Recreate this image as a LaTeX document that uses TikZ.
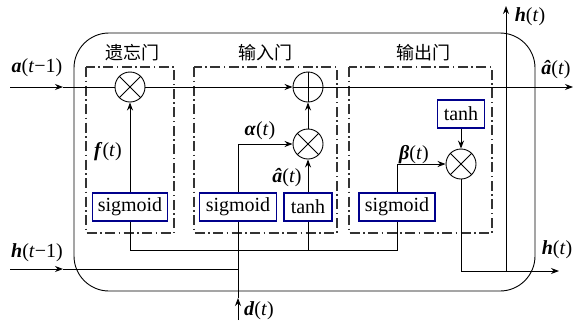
\documentclass[tikz,border=0pt]{standalone}
\usepackage{fontspec}
\setmainfont{Liberation Serif}
\newfontfamily\cjk{Noto Sans CJK SC}
\usetikzlibrary{arrows.meta}
\newcommand\bvar[1]{\textbf{\textit{#1}}}
\begin{document}
\begin{tikzpicture}[x=1pt,y=-1pt,
  font=\fontsize{20}{23}\selectfont,
  line width=0.9pt,
  >={Stealth[length=8pt,width=6pt]},
  fn/.style={draw=blue!55!black, line width=1.2pt, fill=white, inner sep=3pt, minimum height=28pt},
  op/.style={draw, circle, minimum size=30pt, inner sep=0pt, fill=white},
  gatebox/.style={draw=black!80, dash pattern=on 10pt off 3.5pt on 1.5pt off 3.5pt, line width=1.1pt},
  lbl/.style={inner sep=0pt},
  cjklbl/.style={inner sep=0pt, font={\cjk\fontsize{18}{22}\selectfont}}
]
\useasboundingbox (0,0) rectangle (573,322);
% outer cell
\draw[rounded corners=35pt] (74,33) rectangle (535,291);
% gate boxes
\draw[gatebox] (86,67) rectangle (174,233);
\draw[gatebox] (194,67) rectangle (337,233);
\draw[gatebox] (349,67) rectangle (492,233);
\node[cjklbl] (g1) at (132,53) {遗忘门};
\node[cjklbl] (g2) at (265,53) {输入门};
\node[cjklbl] (g3) at (423,53) {输出门};
% operators
\node[op] (fx) at (130,87) {};
\node[op] (ip) at (308,87) {};
\node[op] (ix) at (308,144) {};
\node[op] (ox) at (461,164) {};
\foreach \n in {fx,ix,ox}
  \draw (\n.north east) -- (\n.south west) (\n.north west) -- (\n.south east);
\draw (ip.north) -- (ip.south) (ip.west) -- (ip.east);
% function boxes
\node[fn, minimum width=75pt] (fs) at (130,207) {sigmoid};
\node[fn, minimum width=77pt] (is) at (238,207) {sigmoid};
\node[fn, minimum width=48pt] (it) at (308,207) {tanh};
\node[fn, minimum width=76pt] (os) at (397,207) {sigmoid};
\node[fn, minimum width=47pt] (ot) at (461,114) {tanh};
% cell state line
\coordinate (ain) at (10,87);
\coordinate (aarr) at (63,87);
\coordinate (aout) at (573,87);
\draw[->] (ain) -- (aarr);
\draw (aarr) -- (fx.west);
\draw[->] (fx.east) -- (ip.west);
\draw[->] (ip.east) -- (aout);
% gate connections
\draw[->] (fs.north) -- (fx.south);
\draw[->] (is.north) |- (ix.west);
\draw[->] (it.north) -- (ix.south);
\draw[->] (ix.north) -- (ip.south);
\draw[->] (ot.south) -- (ox.north);
\draw[->] (os.north) |- (ox.west);
% input bus
\coordinate (b1) at (130,250);
\coordinate (b4) at (397,250);
\draw (fs.south) -- (b1) -- (b4) -- (os.south);
\draw (it.south) -- (it.south |- b1);
% d(t)
\coordinate (din) at (238,320);
\coordinate (darr) at (238,298);
\draw[->] (din) -- (darr);
\draw (darr) -- (is.south);
% h(t-1)
\coordinate (hin) at (10,269);
\coordinate (harr) at (63,269);
\draw[->] (hin) -- (harr);
\draw (harr) -- (harr -| is.south);
% outputs
\coordinate (hend) at (559,271);
\coordinate (hj) at (506,271);
\coordinate (htop) at (506,6);
\draw[->] (ox.south) |- (hend);
\draw[->] (hj) -- (htop);
% labels
\node[lbl] (la) at (37,68) {\bvar{a}(\textit{t}−1)};
\node[lbl] (lf) at (108,152) {\bvar{f}(\textit{t})};
\node[lbl] (lal) at (260,131) {\bvar{α}(\textit{t})};
\node[lbl] (lah) at (287,178) {\bvar{â}(\textit{t})};
\node[lbl] (lb) at (414,155) {\bvar{β}(\textit{t})};
\node[lbl] (lao) at (556,70) {\bvar{â}(\textit{t})};
\node[lbl] (lht) at (530,17) {\bvar{h}(\textit{t})};
\node[lbl] (lho) at (557,250) {\bvar{h}(\textit{t})};
\node[lbl] (lhi) at (37,253) {\bvar{h}(\textit{t}−1)};
\node[lbl] (ld) at (259,311) {\bvar{d}(\textit{t})};
\end{tikzpicture}
\end{document}
